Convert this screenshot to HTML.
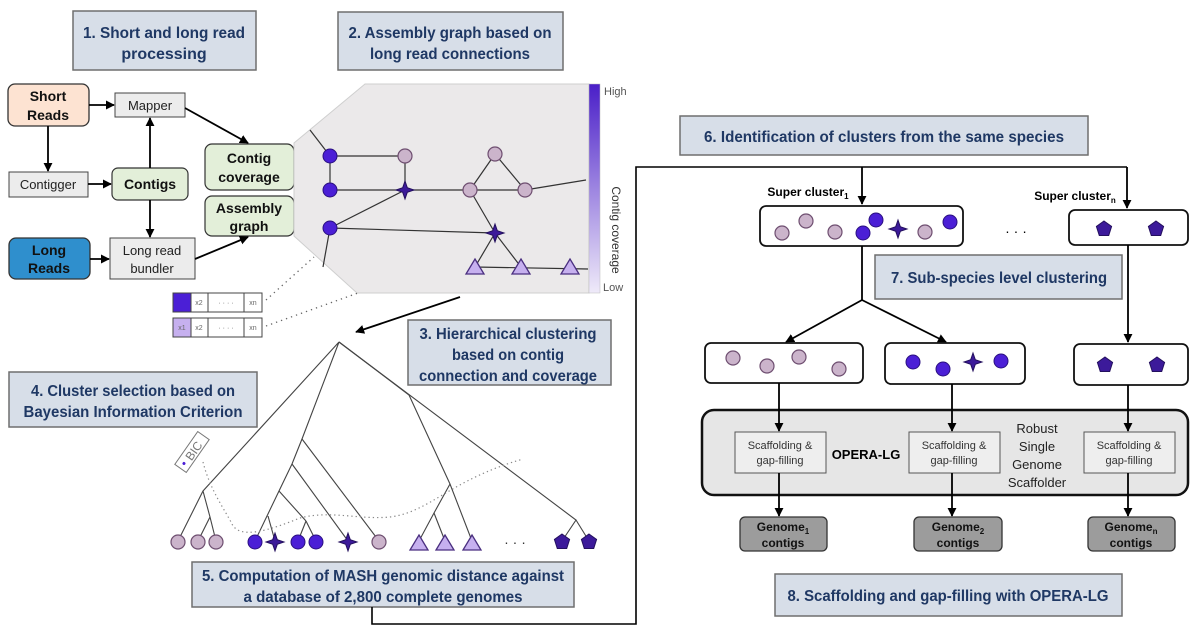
<!DOCTYPE html>
<html><head><meta charset="utf-8"><style>
html,body{margin:0;padding:0;background:#fff;}
svg{display:block;font-family:"Liberation Sans",sans-serif;}
.t{font-weight:bold;fill:#1f3864;font-size:16px;text-anchor:middle;}
.tb{fill:#d7dee8;stroke:#6f6f6f;stroke-width:1.5;}
.n{font-size:13px;text-anchor:middle;fill:#222;}
.nb{font-size:14px;font-weight:bold;text-anchor:middle;fill:#111;}
.l{stroke:#333;stroke-width:1.2;fill:none;}
.a{stroke:#000;stroke-width:1.8;fill:none;marker-end:url(#ar);}
.dc{fill:#4b1fd6;stroke:#2a1080;stroke-width:1;}
.lc{fill:#cbb4cb;stroke:#6e4e70;stroke-width:1.2;}
.tr{fill:#c6b0ef;stroke:#4a2f80;stroke-width:1.3;}
.dk{fill:#3c1a9a;stroke:#24105e;stroke-width:1;}
</style></head><body>
<svg width="1200" height="634" viewBox="0 0 1200 634" xmlns="http://www.w3.org/2000/svg">
<defs>
<marker id="ar" viewBox="0 0 10 10" refX="9" refY="5" markerWidth="5" markerHeight="5" orient="auto"><path d="M0,0 L10,5 L0,10 z" fill="#000"/></marker>
<linearGradient id="cb" x1="0" y1="0" x2="0" y2="1"><stop offset="0" stop-color="#4a1fc8"/><stop offset="1" stop-color="#efeaf9"/></linearGradient>
<symbol id="st" viewBox="-10 -10 20 20" overflow="visible"><polygon points="0,-9 2.3,-2.3 9,0 2.3,2.3 0,9 -2.3,2.3 -9,0 -2.3,-2.3" class="dk"/></symbol>
<symbol id="pg" viewBox="-10 -10 20 20" overflow="visible"><polygon points="0,-8 7.6,-2.5 4.7,6.5 -4.7,6.5 -7.6,-2.5" class="dk"/></symbol>
<symbol id="tri" viewBox="-10 -10 20 20" overflow="visible"><polygon points="0,-8 9,7 -9,7" class="tr"/></symbol>
</defs>

<!-- title boxes -->
<rect class="tb" x="73" y="11" width="183" height="59"/>
<text class="t" x="164" y="38" textLength="162" lengthAdjust="spacingAndGlyphs">1. Short and long read</text>
<text class="t" x="164" y="59">processing</text>
<rect class="tb" x="338" y="12" width="225" height="58"/>
<text class="t" x="450" y="38" textLength="203" lengthAdjust="spacingAndGlyphs">2. Assembly graph based on</text>
<text class="t" x="450" y="59" textLength="160" lengthAdjust="spacingAndGlyphs">long read connections</text>

<!-- flowchart -->
<rect x="8" y="84" width="81" height="42" rx="7" fill="#fde3d2" stroke="#333" stroke-width="1.3"/>
<text class="nb" x="48" y="101">Short</text><text class="nb" x="48" y="120">Reads</text>
<rect x="115" y="93" width="70" height="24" fill="#ececec" stroke="#444" stroke-width="1"/>
<text class="n" x="150" y="110">Mapper</text>
<rect x="9" y="172" width="79" height="25" fill="#ececec" stroke="#444" stroke-width="1"/>
<text class="n" x="48" y="189">Contigger</text>
<rect x="112" y="168" width="76" height="32" rx="6" fill="#e3efd9" stroke="#333" stroke-width="1.2"/>
<text class="nb" x="150" y="189">Contigs</text>
<rect x="9" y="238" width="81" height="41" rx="7" fill="#2f8fcd" stroke="#333" stroke-width="1.3"/>
<text class="nb" x="49" y="255">Long</text><text class="nb" x="49" y="273">Reads</text>
<rect x="110" y="238" width="85" height="41" fill="#ececec" stroke="#444" stroke-width="1"/>
<text class="n" x="152" y="255">Long read</text><text class="n" x="152" y="273">bundler</text>
<rect x="205" y="144" width="89" height="46" rx="7" fill="#e3efd9" stroke="#333" stroke-width="1.2"/>
<text class="nb" x="249" y="163">Contig</text><text class="nb" x="249" y="182">coverage</text>
<rect x="205" y="196" width="89" height="40" rx="7" fill="#e3efd9" stroke="#333" stroke-width="1.2"/>
<text class="nb" x="249" y="213">Assembly</text><text class="nb" x="249" y="231">graph</text>

<line class="a" x1="89" y1="105" x2="114" y2="105"/>
<line class="a" x1="48" y1="126" x2="48" y2="171"/>
<line class="a" x1="88" y1="184" x2="111" y2="184"/>
<line class="a" x1="150" y1="168" x2="150" y2="118"/>
<line class="a" x1="150" y1="200" x2="150" y2="237"/>
<line class="a" x1="90" y1="259" x2="109" y2="259"/>
<line class="a" x1="185" y1="108" x2="248" y2="143"/>
<line class="a" x1="195" y1="259" x2="248" y2="237"/>

<!-- graph panel -->
<polygon points="365,84 589,84 589,293 357,293 294,236 294,143" fill="#ebe9ea" stroke="#cfcfcf" stroke-width="1"/>
<rect x="589" y="84" width="11" height="209" fill="url(#cb)" stroke="#bbb" stroke-width="0.5"/>
<text x="604" y="95" font-size="11" fill="#555">High</text>
<text x="603" y="291" font-size="11" fill="#555">Low</text>
<text x="0" y="0" font-size="12" fill="#333" transform="translate(612,230) rotate(90)" text-anchor="middle">Contig coverage</text>
<g class="l" stroke="#555">
<line x1="310" y1="130" x2="330" y2="156"/>
<line x1="330" y1="156" x2="405" y2="156"/>
<line x1="330" y1="156" x2="330" y2="190"/>
<line x1="405" y1="156" x2="405" y2="190"/>
<line x1="330" y1="190" x2="525" y2="190"/>
<line x1="525" y1="190" x2="586" y2="180"/>
<line x1="330" y1="228" x2="405" y2="190"/>
<line x1="330" y1="228" x2="495" y2="233"/>
<line x1="470" y1="190" x2="495" y2="154"/>
<line x1="495" y1="154" x2="525" y2="190"/>
<line x1="470" y1="190" x2="495" y2="233"/>
<line x1="495" y1="233" x2="475" y2="267"/>
<line x1="495" y1="233" x2="521" y2="267"/>
<line x1="475" y1="267" x2="588" y2="269"/>
<line x1="330" y1="228" x2="323" y2="267"/>
</g>
<circle class="dc" cx="330" cy="156" r="7"/>
<circle class="lc" cx="405" cy="156" r="7"/>
<circle class="dc" cx="330" cy="190" r="7"/>
<use href="#st" x="395" y="180" width="20" height="20"/>
<circle class="lc" cx="470" cy="190" r="7"/>
<circle class="lc" cx="495" cy="154" r="7"/>
<circle class="lc" cx="525" cy="190" r="7"/>
<circle class="dc" cx="330" cy="228" r="7"/>
<use href="#st" x="485" y="223" width="20" height="20"/>
<use href="#tri" x="465" y="257" width="20" height="20"/>
<use href="#tri" x="511" y="257" width="20" height="20"/>
<use href="#tri" x="560" y="257" width="20" height="20"/>

<!-- vectors -->
<g font-size="7" fill="#666" text-anchor="middle">
<rect x="173" y="293" width="18" height="19" fill="#4b1fd6" stroke="#444"/>
<rect x="191" y="293" width="17" height="19" fill="#fff" stroke="#444"/>
<rect x="208" y="293" width="36" height="19" fill="#fff" stroke="#444"/>
<rect x="244" y="293" width="18" height="19" fill="#fff" stroke="#444"/>
<text x="199" y="305">x2</text><text x="226" y="305">· · · ·</text><text x="253" y="305">xn</text>
<rect x="173" y="318" width="18" height="19" fill="#c6b0ef" stroke="#444"/>
<rect x="191" y="318" width="17" height="19" fill="#fff" stroke="#444"/>
<rect x="208" y="318" width="36" height="19" fill="#fff" stroke="#444"/>
<rect x="244" y="318" width="18" height="19" fill="#fff" stroke="#444"/>
<text x="182" y="330">x1</text><text x="199" y="330">x2</text><text x="226" y="330">· · · ·</text><text x="253" y="330">xn</text>
</g>
<line x1="266" y1="300" x2="314" y2="257" stroke="#666" stroke-width="1.3" stroke-dasharray="1.3,4"/>
<line x1="266" y1="326" x2="358" y2="293" stroke="#666" stroke-width="1.3" stroke-dasharray="1.3,4"/>
<line x1="460" y1="297" x2="356" y2="332" stroke="#000" stroke-width="1.8" marker-end="url(#ar)"/>

<!-- box 3,4 -->
<rect class="tb" x="408" y="320" width="203" height="65"/>
<text class="t" x="508" y="339" textLength="177" lengthAdjust="spacingAndGlyphs">3. Hierarchical clustering</text>
<text class="t" x="508" y="360" textLength="112" lengthAdjust="spacingAndGlyphs">based on contig</text>
<text class="t" x="508" y="381" textLength="178" lengthAdjust="spacingAndGlyphs">connection and coverage</text>
<rect class="tb" x="9" y="372" width="248" height="55"/>
<text class="t" x="133" y="396" textLength="204" lengthAdjust="spacingAndGlyphs">4. Cluster selection based on</text>
<text class="t" x="133" y="417" textLength="219" lengthAdjust="spacingAndGlyphs">Bayesian Information Criterion</text>

<!-- tree -->
<g stroke="#444" stroke-width="1.1" fill="none">
<polyline points="178,541 203,491 339,342 302,439 292,464 279,491 255,541"/>
<polyline points="203,491 210,517 216,541"/><line x1="210" y1="517" x2="198" y2="541"/>
<line x1="279" y1="491" x2="306" y2="521"/><line x1="306" y1="521" x2="298" y2="541"/><line x1="306" y1="521" x2="316" y2="541"/>
<line x1="268" y1="516" x2="275" y2="541"/>
<line x1="292" y1="464" x2="348" y2="541"/>
<line x1="302" y1="439" x2="379" y2="541"/>
<polyline points="339,342 409,395 450,484 472,541"/>
<polyline points="450,484 434,513 419,541"/><line x1="434" y1="513" x2="445" y2="541"/>
<polyline points="339,342 576,520 562,541"/><line x1="576" y1="520" x2="589" y2="541"/>
</g>
<path d="M203,462 C210,490 225,510 232,524 C240,540 270,530 300,518 C330,510 360,520 390,517 C430,512 450,480 523,459" fill="none" stroke="#888" stroke-width="1.2" stroke-dasharray="1.3,3"/>
<g transform="translate(192,452) rotate(-55)">
<rect x="-20" y="-7" width="40" height="14" fill="#fff" stroke="#777" stroke-width="1"/>
<text x="2" y="5" font-size="12" fill="#777" text-anchor="middle">BIC</text>
<circle cx="-14" cy="0" r="1.5" fill="#4b1fd6"/>
</g>
<circle class="lc" cx="178" cy="542" r="7"/><circle class="lc" cx="198" cy="542" r="7"/><circle class="lc" cx="216" cy="542" r="7"/>
<circle class="dc" cx="255" cy="542" r="7"/><use href="#st" x="265" y="532" width="20" height="20"/>
<circle class="dc" cx="298" cy="542" r="7"/><circle class="dc" cx="316" cy="542" r="7"/>
<use href="#st" x="338" y="532" width="20" height="20"/><circle class="lc" cx="379" cy="542" r="7"/>
<use href="#tri" x="409" y="533" width="20" height="20"/><use href="#tri" x="435" y="533" width="20" height="20"/><use href="#tri" x="462" y="533" width="20" height="20"/>
<text x="515" y="547" font-size="14" text-anchor="middle" fill="#333">· · ·</text>
<use href="#pg" x="552" y="532" width="20" height="20"/><use href="#pg" x="579" y="532" width="20" height="20"/>

<rect class="tb" x="192" y="562" width="382" height="45"/>
<text class="t" x="383" y="581" textLength="362" lengthAdjust="spacingAndGlyphs">5. Computation of MASH genomic distance against</text>
<text class="t" x="383" y="602" textLength="279" lengthAdjust="spacingAndGlyphs">a database of 2,800 complete genomes</text>

<!-- connector -->
<polyline points="372,607 372,624 636,624 636,167 1127,167" fill="none" stroke="#000" stroke-width="1.6"/>
<line class="a" x1="862" y1="167" x2="862" y2="204"/>
<line class="a" x1="1127" y1="167" x2="1127" y2="208"/>

<rect class="tb" x="680" y="116" width="408" height="39"/>
<text class="t" x="884" y="142" textLength="360" lengthAdjust="spacingAndGlyphs">6. Identification of clusters from the same species</text>

<text x="808" y="196" font-size="12" font-weight="bold" text-anchor="middle">Super cluster<tspan font-size="8" dy="3">1</tspan></text>
<text x="1075" y="200" font-size="12" font-weight="bold" text-anchor="middle">Super cluster<tspan font-size="8" dy="3">n</tspan></text>

<rect x="760" y="206" width="203" height="40" rx="6" fill="#fff" stroke="#111" stroke-width="1.8"/>
<circle class="lc" cx="782" cy="233" r="7"/><circle class="lc" cx="806" cy="221" r="7"/><circle class="lc" cx="835" cy="232" r="7"/><circle class="lc" cx="925" cy="232" r="7"/>
<circle class="dc" cx="863" cy="233" r="7"/><circle class="dc" cx="876" cy="220" r="7"/><circle class="dc" cx="950" cy="222" r="7"/>
<use href="#st" x="888" y="219" width="20" height="20"/>
<text x="1016" y="236" font-size="14" text-anchor="middle">· · ·</text>
<rect x="1069" y="210" width="119" height="35" rx="6" fill="#fff" stroke="#111" stroke-width="1.8"/>
<use href="#pg" x="1094" y="219" width="20" height="20"/><use href="#pg" x="1146" y="219" width="20" height="20"/>

<rect class="tb" x="875" y="255" width="247" height="44"/>
<text class="t" x="999" y="283" textLength="216" lengthAdjust="spacingAndGlyphs">7. Sub-species level clustering</text>

<line x1="862" y1="246" x2="862" y2="300" stroke="#000" stroke-width="1.8"/>
<line class="a" x1="862" y1="300" x2="786" y2="342"/>
<line class="a" x1="862" y1="300" x2="946" y2="342"/>
<line class="a" x1="1128" y1="245" x2="1128" y2="342"/>

<rect x="705" y="343" width="158" height="40" rx="6" fill="#fff" stroke="#111" stroke-width="1.8"/>
<circle class="lc" cx="733" cy="358" r="7"/><circle class="lc" cx="767" cy="366" r="7"/><circle class="lc" cx="799" cy="357" r="7"/><circle class="lc" cx="839" cy="369" r="7"/>
<rect x="885" y="343" width="140" height="41" rx="6" fill="#fff" stroke="#111" stroke-width="1.8"/>
<circle class="dc" cx="913" cy="362" r="7"/><circle class="dc" cx="943" cy="369" r="7"/><use href="#st" x="963" y="352" width="20" height="20"/><circle class="dc" cx="1001" cy="361" r="7"/>
<rect x="1074" y="344" width="114" height="41" rx="6" fill="#fff" stroke="#111" stroke-width="1.8"/>
<use href="#pg" x="1095" y="355" width="20" height="20"/><use href="#pg" x="1147" y="355" width="20" height="20"/>

<rect x="702" y="410" width="486" height="85" rx="12" fill="#e6e6e6" stroke="#111" stroke-width="2.5"/>
<line class="a" x1="779" y1="383" x2="779" y2="431"/>
<line class="a" x1="952" y1="384" x2="952" y2="431"/>
<line class="a" x1="1128" y1="385" x2="1128" y2="431"/>
<g font-size="11" fill="#333" text-anchor="middle">
<rect x="735" y="432" width="91" height="41" fill="#eee" stroke="#555"/>
<text x="780" y="449">Scaffolding &amp;</text><text x="780" y="464">gap-filling</text>
<rect x="909" y="432" width="91" height="41" fill="#eee" stroke="#555"/>
<text x="954" y="449">Scaffolding &amp;</text><text x="954" y="464">gap-filling</text>
<rect x="1084" y="432" width="91" height="41" fill="#eee" stroke="#555"/>
<text x="1129" y="449">Scaffolding &amp;</text><text x="1129" y="464">gap-filling</text>
</g>
<text x="866" y="459" font-size="13" font-weight="bold" text-anchor="middle">OPERA-LG</text>
<g font-size="13" fill="#222" text-anchor="middle">
<text x="1037" y="433">Robust</text><text x="1037" y="451">Single</text><text x="1037" y="469">Genome</text><text x="1037" y="487">Scaffolder</text>
</g>
<line class="a" x1="779" y1="473" x2="779" y2="516"/>
<line class="a" x1="952" y1="473" x2="952" y2="516"/>
<line class="a" x1="1128" y1="473" x2="1128" y2="516"/>
<g font-size="12" font-weight="bold" text-anchor="middle" fill="#111">
<rect x="740" y="517" width="87" height="34" rx="5" fill="#9c9c9c" stroke="#333" stroke-width="1.3"/>
<text x="783" y="531">Genome<tspan font-size="8" dy="3">1</tspan></text><text x="783" y="547">contigs</text>
<rect x="914" y="517" width="88" height="34" rx="5" fill="#9c9c9c" stroke="#333" stroke-width="1.3"/>
<text x="958" y="531">Genome<tspan font-size="8" dy="3">2</tspan></text><text x="958" y="547">contigs</text>
<rect x="1088" y="517" width="87" height="34" rx="5" fill="#9c9c9c" stroke="#333" stroke-width="1.3"/>
<text x="1131" y="531">Genome<tspan font-size="8" dy="3">n</tspan></text><text x="1131" y="547">contigs</text>
</g>

<rect class="tb" x="775" y="574" width="347" height="42"/>
<text class="t" x="948" y="601" textLength="321" lengthAdjust="spacingAndGlyphs">8. Scaffolding and gap-filling with OPERA-LG</text>
</svg>
</body></html>
